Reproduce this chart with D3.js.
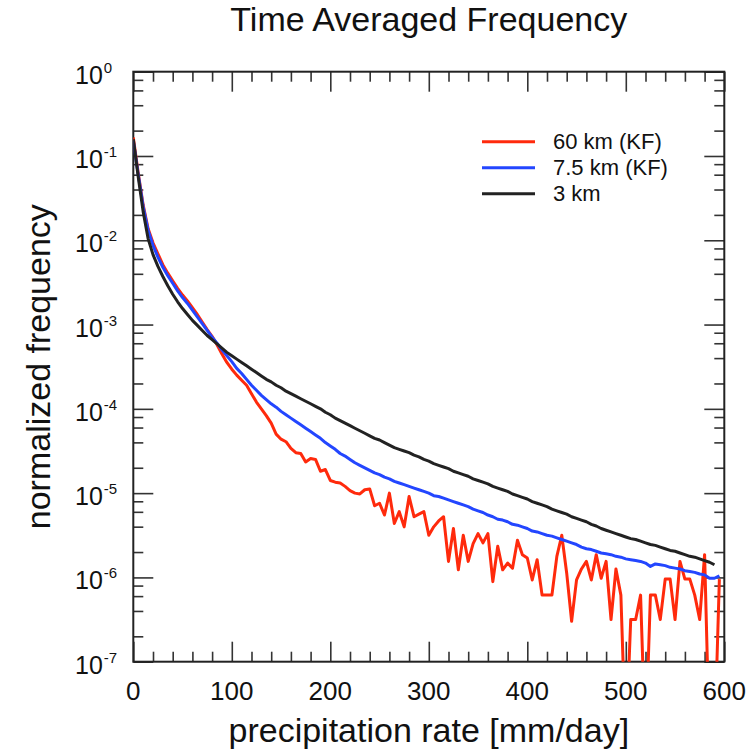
<!DOCTYPE html>
<html>
<head>
<meta charset="utf-8">
<script src="https://cdn.jsdelivr.net/npm/d3@7"></script>
<style>
  body { margin: 0; background: #fff; }
  text { font-family: "Liberation Sans", Arial, sans-serif; fill: #111; }
</style>
</head>
<body>
<div id="chart"></div>
<script>
// precipitation-rate bins [mm/day]
const bins = [
  0, 5, 10, 15, 20, 25, 30, 35, 40, 45, 50, 55, 60, 65, 70, 75, 80, 85, 90, 95,
  100, 105, 110, 115, 120, 125, 130, 135, 140, 145, 150, 155, 160, 165, 170, 175, 180, 185, 190, 195,
  200, 205, 210, 215, 220, 225, 230, 235, 240, 245, 250, 255, 260, 265, 270, 275, 280, 285, 290, 295,
  300, 305, 310, 315, 320, 325, 330, 335, 340, 345, 350, 355, 360, 365, 370, 375, 380, 385, 390, 395,
  400, 405, 410, 415, 420, 425, 430, 435, 440, 445, 450, 455, 460, 465, 470, 475, 480, 485, 490, 495,
  500, 505, 510, 515, 520, 525, 530, 535, 540, 545, 550, 555, 560, 565, 570, 575, 580, 585, 590, 595
];

// log10 of normalized frequency (-8 = empty bin, below the axis)
const log60km = [
  -0.78, -1.20, -1.58, -1.86, -2.03, -2.16, -2.29, -2.39, -2.48, -2.57,
  -2.65, -2.72, -2.80, -2.88, -2.97, -3.06, -3.14, -3.24, -3.35, -3.45,
  -3.53, -3.60, -3.66, -3.72, -3.82, -3.92, -4.00, -4.08, -4.17, -4.30,
  -4.36, -4.39, -4.47, -4.52, -4.53, -4.63, -4.59, -4.60, -4.74, -4.72,
  -4.85, -4.87, -4.88, -4.92, -4.97, -5.00, -5.01, -4.96, -4.95, -5.15,
  -5.12, -5.26, -5.00, -5.36, -5.22, -5.40, -5.04, -5.28, -5.25, -5.22,
  -5.50, -5.40, -5.33, -5.28, -5.81, -5.42, -5.91, -5.50, -5.81, -5.60,
  -5.48, -5.59, -5.48, -6.05, -5.63, -5.91, -5.83, -5.89, -5.56, -5.73,
  -5.77, -6.03, -5.79, -6.21, -6.21, -6.21, -5.75, -5.50, -5.95, -6.52,
  -6.03, -5.90, -5.81, -6.03, -5.73, -6.01, -5.81, -6.50, -5.90, -6.21,
  -8.00, -6.50, -6.50, -6.21, -8.00, -6.21, -6.21, -6.50, -6.02, -6.02,
  -6.50, -5.81, -6.02, -6.02, -6.21, -6.50, -5.73, -8.00, -8.00, -6.02
];
const log7p5km = [
  -0.82, -1.22, -1.60, -1.88, -2.06, -2.20, -2.32, -2.42, -2.51, -2.60,
  -2.68, -2.75, -2.83, -2.91, -2.99, -3.07, -3.15, -3.22, -3.30, -3.37,
  -3.44, -3.52, -3.58, -3.65, -3.72, -3.78, -3.84, -3.89, -3.94, -3.98,
  -4.03, -4.07, -4.11, -4.15, -4.19, -4.23, -4.27, -4.31, -4.35, -4.40,
  -4.44, -4.48, -4.53, -4.56, -4.60, -4.64, -4.67, -4.70, -4.73, -4.76,
  -4.78, -4.81, -4.83, -4.86, -4.88, -4.90, -4.92, -4.94, -4.96, -4.98,
  -5.00, -5.03, -5.04, -5.06, -5.08, -5.10, -5.12, -5.14, -5.16, -5.19,
  -5.21, -5.23, -5.26, -5.28, -5.31, -5.32, -5.34, -5.37, -5.38, -5.40,
  -5.42, -5.45, -5.46, -5.48, -5.50, -5.51, -5.53, -5.55, -5.57, -5.59,
  -5.61, -5.64, -5.66, -5.67, -5.69, -5.71, -5.72, -5.73, -5.75, -5.76,
  -5.78, -5.79, -5.80, -5.81, -5.83, -5.87, -5.84, -5.85, -5.86, -5.88,
  -5.89, -5.90, -5.92, -5.93, -5.94, -5.96, -5.97, -6.01, -6.01, -5.98
];
// the 3 km curve stops at 590 mm/day
const log3km = [
  -0.80, -1.25, -1.66, -1.98, -2.17, -2.31, -2.43, -2.54, -2.64, -2.73,
  -2.81, -2.88, -2.95, -3.01, -3.07, -3.13, -3.18, -3.23, -3.28, -3.33,
  -3.37, -3.41, -3.45, -3.49, -3.53, -3.57, -3.61, -3.65, -3.68, -3.72,
  -3.75, -3.79, -3.82, -3.85, -3.88, -3.91, -3.94, -3.97, -4.00, -4.04,
  -4.07, -4.11, -4.14, -4.17, -4.20, -4.23, -4.26, -4.29, -4.32, -4.35,
  -4.37, -4.40, -4.43, -4.46, -4.48, -4.50, -4.52, -4.55, -4.57, -4.60,
  -4.62, -4.65, -4.67, -4.69, -4.71, -4.74, -4.76, -4.78, -4.80, -4.83,
  -4.85, -4.87, -4.89, -4.92, -4.94, -4.96, -4.98, -5.01, -5.03, -5.05,
  -5.07, -5.10, -5.12, -5.14, -5.16, -5.19, -5.21, -5.23, -5.25, -5.28,
  -5.30, -5.32, -5.34, -5.37, -5.39, -5.42, -5.44, -5.46, -5.48, -5.50,
  -5.52, -5.54, -5.55, -5.57, -5.59, -5.61, -5.62, -5.64, -5.66, -5.68,
  -5.69, -5.71, -5.73, -5.75, -5.76, -5.78, -5.80, -5.82, -5.85
];

const seriesNames = ["60 km (KF)", "7.5 km (KF)", "3 km"];
const seriesColors = ["#ff2a0c", "#2346ff", "#222222"];
const xTicks = [0, 100, 200, 300, 400, 500, 600];
const yExponents = [0, -1, -2, -3, -4, -5, -6, -7];

const series = [
  { name: seriesNames[0], color: seriesColors[0], logs: log60km },
  { name: seriesNames[1], color: seriesColors[1], logs: log7p5km },
  { name: seriesNames[2], color: seriesColors[2], logs: log3km }
];

const width = 755, height = 754;
const plotLeft = 133.3, plotRight = 724.3, plotTop = 71.7, plotBottom = 661.7;

const svg = d3.select("#chart").append("svg")
    .attr("width", width)
    .attr("height", height);

const x = d3.scaleLinear().domain([0, 600]).range([plotLeft, plotRight]);
const y = d3.scaleLog().domain([1e-7, 1]).range([plotBottom, plotTop]);

svg.append("defs").append("clipPath").attr("id", "plot-clip")
  .append("rect")
    .attr("x", plotLeft).attr("y", plotTop)
    .attr("width", plotRight - plotLeft).attr("height", plotBottom - plotTop);

// title
svg.append("text")
    .attr("x", (plotLeft + plotRight) / 2)
    .attr("y", 31)
    .attr("text-anchor", "middle")
    .style("font-size", "34px")
    .text("Time Averaged Frequency");

// ticks point into the plot on all four sides, minor ticks at 2,4,6,8 on the log axis
const xMinor = d3.range(20, 600, 20).filter(d => d % 100 !== 0);
const yMinor = [];
yExponents.slice(0, -1).forEach(e => [2, 4, 6, 8].forEach(m => yMinor.push(m * Math.pow(10, e - 1))));

function drawAxis(axis, transform, values, size) {
  const g = svg.append("g")
      .attr("transform", transform)
      .call(axis.tickValues(values).tickSize(size).tickFormat(""));
  g.select(".domain").remove();
  g.selectAll("line").attr("stroke", "#333").attr("stroke-width", 1.6);
}

const majorLen = 20, minorLen = 10;
const yMajor = yExponents.map(e => Math.pow(10, e));
drawAxis(d3.axisBottom(x), `translate(0,${plotBottom})`, xTicks, -majorLen);
drawAxis(d3.axisBottom(x), `translate(0,${plotBottom})`, xMinor, -minorLen);
drawAxis(d3.axisTop(x), `translate(0,${plotTop})`, xTicks, -majorLen);
drawAxis(d3.axisTop(x), `translate(0,${plotTop})`, xMinor, -minorLen);
drawAxis(d3.axisLeft(y), `translate(${plotLeft},0)`, yMajor, -majorLen);
drawAxis(d3.axisLeft(y), `translate(${plotLeft},0)`, yMinor, -minorLen);
drawAxis(d3.axisRight(y), `translate(${plotRight},0)`, yMajor, -majorLen);
drawAxis(d3.axisRight(y), `translate(${plotRight},0)`, yMinor, -minorLen);

// frame
svg.append("rect")
    .attr("x", plotLeft).attr("y", plotTop)
    .attr("width", plotRight - plotLeft).attr("height", plotBottom - plotTop)
    .attr("fill", "none")
    .attr("stroke", "#222")
    .attr("stroke-width", 2);

// x tick labels
svg.append("g").selectAll("text")
  .data(xTicks)
  .join("text")
    .attr("x", d => x(d))
    .attr("y", 700)
    .attr("text-anchor", "middle")
    .style("font-size", "26px")
    .text(d => d);

// y tick labels: 10 with superscript exponent
const yLab = svg.append("g").selectAll("text")
  .data(yExponents)
  .join("text")
    .attr("x", 75)
    .attr("y", d => y(Math.pow(10, d)) + 12)
    .style("font-size", "25px");
yLab.append("tspan").text("10");
yLab.append("tspan")
    .attr("dy", -11)
    .attr("dx", 1)
    .style("font-size", "15px")
    .text(d => d);

// axis titles
svg.append("text")
    .attr("x", (plotLeft + plotRight) / 2)
    .attr("y", 742)
    .attr("text-anchor", "middle")
    .style("font-size", "34px")
    .text("precipitation rate [mm/day]");

svg.append("text")
    .attr("transform", `translate(50,${(plotTop + plotBottom) / 2}) rotate(-90)`)
    .attr("text-anchor", "middle")
    .style("font-size", "34px")
    .text("normalized frequency");

// curves
const line = d3.line()
    .x(d => x(d[0]))
    .y(d => y(Math.pow(10, d[1])));

const plot = svg.append("g").attr("clip-path", "url(#plot-clip)");
series.forEach(s => {
  plot.append("path")
      .datum(s.logs.map((v, i) => [bins[i], v]))
      .attr("d", line)
      .attr("fill", "none")
      .attr("stroke", s.color)
      .attr("stroke-width", 3)
      .attr("stroke-linejoin", "round");
});

// legend
const legend = svg.append("g").selectAll("g")
  .data(series)
  .join("g")
    .attr("transform", (d, i) => `translate(482,${141.7 + i * 26})`);
legend.append("line")
    .attr("x1", 0).attr("x2", 53)
    .attr("stroke", d => d.color)
    .attr("stroke-width", 3);
legend.append("text")
    .attr("x", 71)
    .attr("y", 7.5)
    .style("font-size", "22px")
    .text(d => d.name);
</script>
</body>
</html>
